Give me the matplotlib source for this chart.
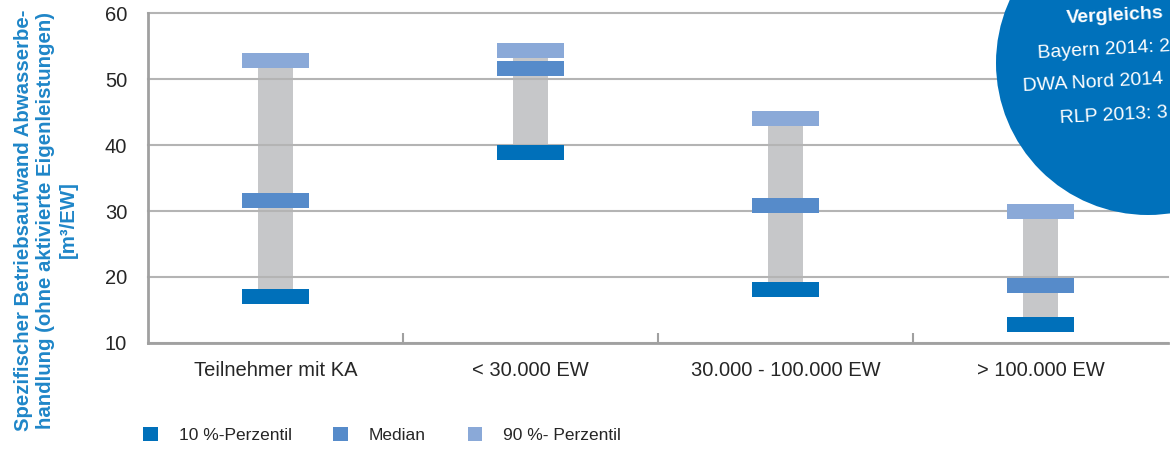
import matplotlib
matplotlib.use("Agg")
import matplotlib.pyplot as plt
from matplotlib.patches import Patch, Ellipse

plt.rcParams['font.family'] = ['Liberation Sans', 'DejaVu Sans']

categories = ["Teilnehmer mit KA", "< 30.000 EW", "30.000 - 100.000 EW", "> 100.000 EW"]
p10 = [17.1, 38.9, 18.1, 12.8]
median = [31.6, 51.6, 30.8, 18.7]
p90 = [52.8, 54.3, 44.0, 29.9]

series_names = ["10 %-Perzentil", "Median", "90 %- Perzentil"]
colors = ["#0070ba", "#568bca", "#8aa9d8"]
gray = "#c6c7c9"
text_col = "#262626"

compare_title = "Vergleichs"
compare_lines = ["Bayern 2014: 2", "DWA Nord 2014", "RLP 2013: 3"]

fig = plt.figure(figsize=(11.7, 4.5), dpi=100)
ax = fig.add_axes([148 / 1170, 1 - 343 / 450, 1020 / 1170, 330 / 450])

x = list(range(len(categories)))
mark_h = 2.27

# grey range bar between the percentiles
ax.bar(x, [b - a for a, b in zip(p10, p90)], bottom=p10, width=0.14,
       color=gray, zorder=1)

for vals, col in zip([p10, median, p90], colors):
    ax.bar(x, [mark_h] * len(vals), bottom=[v - mark_h / 2 for v in vals],
           width=0.26, color=col, zorder=3)

ax.set_xlim(-0.5, 3.5)
ax.set_ylim(10, 60)
ax.set_yticks([10, 20, 30, 40, 50, 60])
ax.set_xticks(x)
ax.set_xticklabels(categories)
ax.set_xticks([0.5, 1.5, 2.5], minor=True)
ax.tick_params(axis='x', which='major', length=0, pad=13, labelsize=14.5, labelcolor=text_col)
ax.tick_params(axis='x', which='minor', direction='in', length=7, width=1.5, color="#a0a0a0")
ax.tick_params(axis='y', length=0, pad=15, labelsize=14.5, labelcolor=text_col)

ax.set_axisbelow('line')
ax.yaxis.grid(True, color="#b4b4b4", linewidth=1.5)
for gl in ax.get_ygridlines():
    gl.set_clip_on(False)
for s in ['top', 'right']:
    ax.spines[s].set_visible(False)
for s in ['left', 'bottom']:
    ax.spines[s].set_color("#a0a0a0")
    ax.spines[s].set_linewidth(2)

fig.text(0.039, 0.511,
         "Spezifischer Betriebsaufwand Abwasserbe-\nhandlung (ohne aktivierte Eigenleistungen)\n[m³/EW]",
         rotation=90, ha='center', va='center', multialignment='center',
         fontsize=14.7, fontweight='bold', color="#1f86c8", linespacing=1.22)

handles = [Patch(facecolor=c, edgecolor='none') for c in colors]
fig.legend(handles, series_names, loc='center left', bbox_to_anchor=(143 / 1170, 1 - 435 / 450),
           ncol=3, frameon=False, fontsize=12.5, handlelength=0.85, handleheight=0.85,
           handletextpad=1.2, columnspacing=2.4, borderaxespad=0, borderpad=0,
           labelcolor=text_col)

# comparison bubble, partly outside the figure
circle = Ellipse((1148 / 1170, 1 - 63 / 450), 2 * 152 / 1170, 2 * 152 / 450,
                 transform=fig.transFigure, facecolor="#0071bb", edgecolor='none', zorder=5)
fig.add_artist(circle)
fig.text(1066 / 1170, 1 - 16 / 450, compare_title, color='white', fontsize=14,
         fontweight='bold', ha='left', va='center', rotation=3, zorder=6)
for i, (t, xl) in enumerate(zip(compare_lines, [1037, 1022, 1059])):
    fig.text(xl / 1170, 1 - (50 + 33 * i) / 450, t, color='white', fontsize=14,
             ha='left', va='center', rotation=3, zorder=6)

fig.savefig("out.png", dpi=100)
